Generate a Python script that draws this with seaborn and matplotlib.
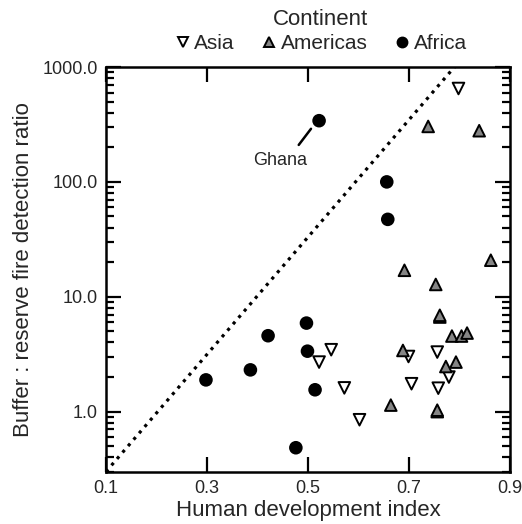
import numpy as np
import pandas as pd
import matplotlib
matplotlib.use("Agg")
import matplotlib.pyplot as plt
import matplotlib.ticker as mticker
import seaborn as sns

# donnees
asia_hdi = [0.798, 0.546, 0.522, 0.572, 0.602, 0.699, 0.705, 0.756, 0.758, 0.779]
asia_ratio = [650, 3.46, 2.70, 1.61, 0.85, 3.02, 1.75, 3.30, 1.60, 2.0]

americas_hdi = [0.738, 0.839, 0.862, 0.691, 0.753, 0.761, 0.761, 0.785, 0.804,
                0.815, 0.688, 0.773, 0.793, 0.664, 0.756, 0.756]
americas_ratio = [304, 279, 20.8, 17.0, 12.8, 6.66, 6.9, 4.55, 4.55,
                  4.83, 3.41, 2.47, 2.70, 1.14, 1.0, 1.03]

africa_hdi = [0.522, 0.656, 0.658, 0.298, 0.386, 0.421, 0.497, 0.499, 0.514, 0.476]
africa_ratio = [341, 100, 47.2, 1.89, 2.31, 4.58, 5.9, 3.36, 1.55, 0.485]

continents = ["Asia", "Americas", "Africa"]

# ligne de reference (pointillee)
ref_hdi = [0.1, 0.79]
ref_ratio = [0.3, 1000]

x_ticks = [0.1, 0.3, 0.5, 0.7, 0.9]
y_ticks = [1, 10, 100, 1000]

df = pd.concat([
    pd.DataFrame({"hdi": asia_hdi, "ratio": asia_ratio, "Continent": "Asia"}),
    pd.DataFrame({"hdi": americas_hdi, "ratio": americas_ratio, "Continent": "Americas"}),
    pd.DataFrame({"hdi": africa_hdi, "ratio": africa_ratio, "Continent": "Africa"}),
])

sns.set_style("ticks")
plt.rcParams["font.family"] = ["Liberation Sans", "DejaVu Sans"]

fig = plt.figure(figsize=(5.22, 5.24), dpi=100)
ax = fig.add_axes([0.203, 0.0998, 0.774, 0.7723])

ax.plot(ref_hdi, ref_ratio, color="black", linestyle=":", linewidth=2.3)

sns.scatterplot(data=df, x="hdi", y="ratio", hue="Continent", style="Continent",
                hue_order=continents, style_order=continents,
                palette={"Asia": "white", "Americas": "#858585", "Africa": "black"},
                markers={"Asia": "v", "Americas": "^", "Africa": "o"},
                s=70, edgecolor="black", linewidth=1.4, ax=ax, zorder=3)

ax.set_yscale("log")
ax.set_xlim(0.1, 0.9)
ax.set_ylim(0.3, 1000)
ax.set_xticks(x_ticks)
ax.xaxis.set_major_formatter(mticker.FuncFormatter(lambda v, p: f"{v:.1f}"))
ax.set_yticks(y_ticks)
ax.yaxis.set_major_formatter(mticker.FuncFormatter(lambda v, p: f"{v:.1f}"))
ax.yaxis.set_minor_locator(mticker.LogLocator(base=10, subs=np.arange(2, 10)))
ax.yaxis.set_minor_formatter(mticker.NullFormatter())

ax.tick_params(which="both", direction="in", top=True, right=True, width=1.6,
               labelsize=13, color="black")
ax.tick_params(which="major", length=11, pad=6)
ax.tick_params(which="minor", length=6)
for sp in ax.spines.values():
    sp.set_linewidth(1.8)
    sp.set_color("black")

ax.set_xlabel("Human development index", fontsize=16, labelpad=2)
ax.set_ylabel("Buffer : reserve fire detection ratio", fontsize=16, labelpad=6)

# annotation Ghana
ax.annotate("Ghana", xy=(0.506, 290), xytext=(0.445, 155), fontsize=13,
            ha="center", va="center",
            arrowprops=dict(arrowstyle="-", color="black", lw=1.8,
                            relpos=(0.75, 1.0), shrinkA=3, shrinkB=0))

sns.move_legend(ax, "lower center", bbox_to_anchor=(0.53, 1.0), ncol=3,
                title="Continent", frameon=False, fontsize=15, title_fontsize=16,
                handletextpad=0.1, columnspacing=1.2, handlelength=0.9,
                borderaxespad=0.25, labelspacing=0.2, markerscale=0.85)

fig.savefig("out.png", dpi=100)
